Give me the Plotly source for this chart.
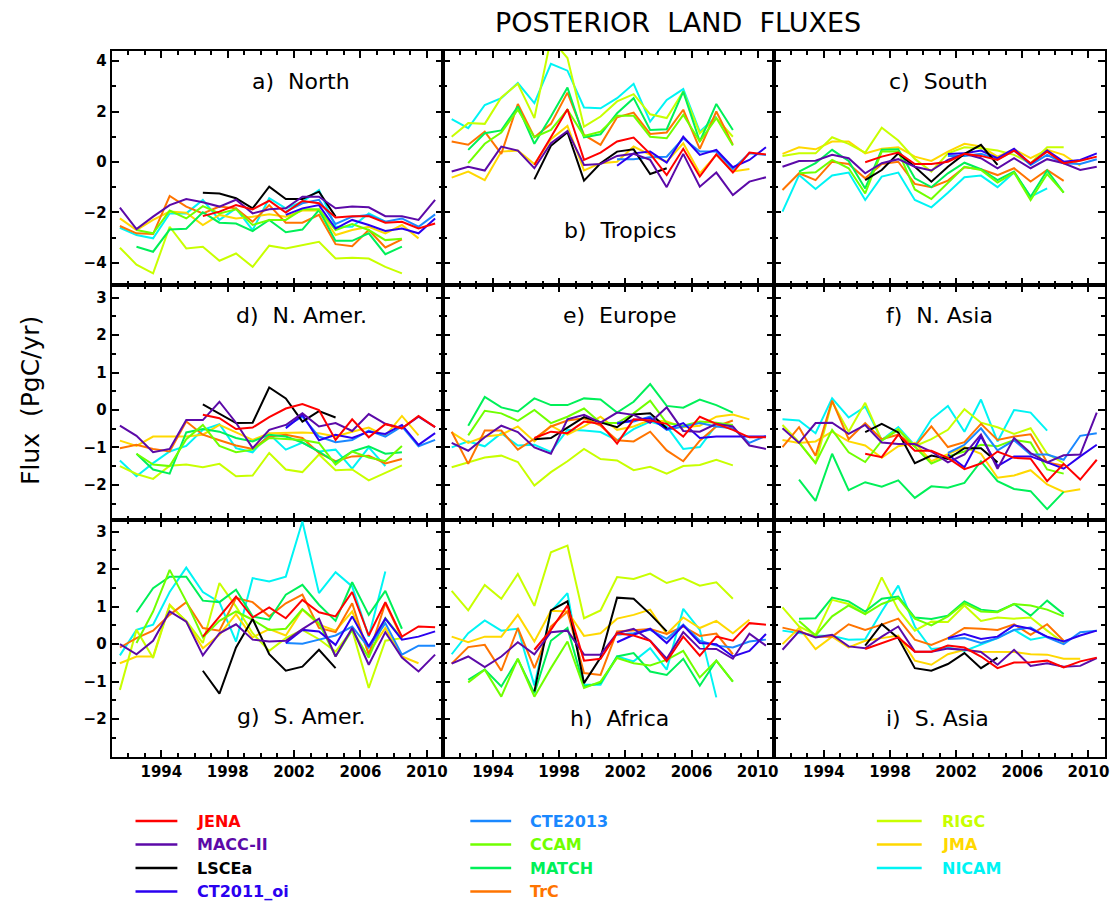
import plotly.graph_objects as go

W, H = 1118, 903

MODELS = ["JENA", "MACC-II", "LSCEa", "CT2011_oi", "CTE2013", "CCAM", "MATCH", "TrC", "RIGC", "JMA", "NICAM"]
COLORS = {"JENA": "#ff0000", "MACC-II": "#5c0aa8", "LSCEa": "#000000", "CT2011_oi": "#2a00f0",
          "CTE2013": "#1a88ff", "CCAM": "#70ff00", "MATCH": "#00f058", "TrC": "#ff7400",
          "RIGC": "#c8ff00", "JMA": "#ffd800", "NICAM": "#00f4f4"}
START_YEAR = {"JENA": 1996, "MACC-II": 1991, "LSCEa": 1996, "CT2011_oi": 2001, "CTE2013": 2001,
              "CCAM": 1992, "MATCH": 1992, "TrC": 1991, "RIGC": 1991, "JMA": 1991, "NICAM": 1991}
X_TICKS = [1994, 1998, 2002, 2006, 2010]
PANEL_TITLES = ["a)  North", "b)  Tropics", "c)  South", "d)  N. Amer.", "e)  Europe",
                "f)  N. Asia", "g)  S. Amer.", "h)  Africa", "i)  S. Asia"]

NORTH = {
    "JENA": [-2.15, -1.97, -1.71, -1.88, -1.54, -2.01, -1.55, -1.64, -2.20, -2.15, -2.15, -2.41, -2.37, -2.64, -2.44],
    "MACC-II": [-1.81, -2.66, -2.17, -1.71, -1.47, -1.60, -1.77, -1.50, -2.04, -1.88, -1.84, -1.38, -1.38, -1.84, -1.77, -1.80, -2.15, -2.15, -2.30, -1.50],
    "LSCEa": [-1.22, -1.25, -1.44, -1.84, -0.98, -1.47, -1.47, -1.18, -2.17],
    "CT2011_oi": [-2.10, -1.84, -1.71, -2.64, -2.30, -2.50, -2.74, -2.64, -2.83, -2.24],
    "CTE2013": [-1.97, -1.64, -1.50, -2.46, -2.17, -2.10, -2.37, -2.24, -2.57, -2.08],
    "CCAM": [-2.70, -2.83, -1.93, -2.24, -1.75, -2.04, -1.88, -2.50, -2.30, -2.30, -1.88, -1.88, -2.70, -2.46, -2.70, -3.10, -3.05],
    "MATCH": [-3.36, -3.56, -2.68, -2.65, -2.00, -2.41, -2.44, -2.74, -2.30, -2.79, -2.68, -1.91, -3.13, -3.13, -2.83, -3.66, -3.36],
    "TrC": [-2.54, -2.83, -2.86, -1.35, -1.77, -2.04, -1.77, -1.84, -2.37, -1.71, -2.41, -2.41, -2.10, -3.26, -3.34, -2.70, -3.39, -3.07],
    "RIGC": [-3.40, -4.07, -4.42, -2.57, -3.43, -3.36, -3.92, -3.63, -4.16, -3.32, -3.43, -3.30, -3.17, -3.83, -3.80, -3.83, -4.16, -4.42],
    "JMA": [-2.24, -2.70, -2.30, -1.97, -2.01, -2.50, -2.10, -2.24, -2.17, -2.07, -2.17, -1.93, -1.93, -2.90, -2.70, -2.57, -2.83, -2.50, -3.03],
    "NICAM": [-2.61, -2.90, -3.03, -2.04, -2.04, -1.51, -2.30, -1.84, -2.70, -1.44, -1.84, -1.58, -1.11, -2.57, -2.57, -2.04, -2.37],
}
TROPICS = {
    "JENA": [-0.12, 1.00, 2.09, 0.08, 0.37, 0.81, 0.97, 0.32, -0.52, 0.52, -0.58, 0.30, -0.42, 0.37, 0.30],
    "MACC-II": [-0.38, -0.19, -0.34, 0.61, 0.45, -0.25, 0.74, 1.23, -0.12, -0.08, 0.24, 0.32, 0.08, -1.00, 0.32, -0.98, -0.42, -1.31, -0.78, -0.61],
    "LSCEa": [-0.69, 0.64, 1.18, -0.74, -0.05, 0.41, 0.50, -0.48, -0.25],
    "CT2011_oi": [-0.15, 0.34, 0.41, -0.03, 1.00, 0.28, 0.48, -0.21, 0.08, 0.58],
    "CTE2013": [0.11, 0.11, 0.19, 0.21, 0.94, 0.41, 0.41, -0.28, 0.34, 0.28],
    "CCAM": [-0.05, 0.72, 1.17, 2.07, 0.98, 1.27, 2.07, 1.03, 1.20, 1.83, 1.83, 1.00, 0.94, 1.87, 0.81, 1.74, 0.65],
    "MATCH": [0.48, 1.14, 1.25, 2.20, 0.72, 1.80, 2.95, 0.98, 1.10, 1.93, 2.53, 1.27, 1.30, 2.79, 0.81, 2.30, 1.27],
    "TrC": [0.81, 0.68, 1.20, 0.32, 2.30, 0.98, 1.51, 2.75, 1.07, 0.68, 1.77, 1.96, 1.11, 1.17, 2.07, 0.52, 2.00, 0.68],
    "RIGC": [1.00, 1.54, 1.51, 2.56, 3.10, 1.74, 4.90, 4.12, 1.40, 1.80, 2.40, 2.69, 1.89, 1.74, 2.79, 1.14, 1.74, 1.00],
    "JMA": [-0.62, -0.38, -0.72, 0.41, 0.45, -0.08, 0.90, 1.43, -0.34, -0.05, 0.01, 0.61, 0.28, 0.01, 0.74, -0.45, 0.28, -0.38, -0.28],
    "NICAM": [1.70, 1.34, 2.26, 2.53, 3.13, 2.33, 3.89, 3.62, 2.16, 2.13, 2.53, 3.10, 1.60, 2.46, 2.89, 1.20, 1.80],
}
SOUTH = {
    "JENA": [-0.01, 0.21, 0.37, -0.08, -0.08, 0.01, 0.32, 0.24, 0.08, 0.45, -0.05, 0.41, -0.05, 0.05, 0.21],
    "MACC-II": [-0.19, 0.04, 0.05, 0.28, 0.15, -0.45, -0.05, 0.11, -0.19, -0.34, 0.08, 0.32, 0.15, -0.25, 0.15, -0.25, 0.11, -0.05, -0.32, -0.19],
    "LSCEa": [-0.72, -0.32, 0.34, -0.19, -0.78, -0.19, 0.32, 0.68, -0.12],
    "CT2011_oi": [0.32, 0.34, 0.45, 0.15, 0.52, -0.08, 0.45, 0.01, 0.08, 0.34],
    "CTE2013": [0.24, 0.24, 0.32, 0.11, 0.45, -0.12, 0.28, -0.05, -0.08, 0.11],
    "CCAM": [-0.45, -0.41, 0.08, -0.25, -1.25, 0.41, 0.41, -1.09, -1.47, -0.85, -0.19, -0.32, -0.82, -0.42, -1.51, -0.48, -1.22],
    "MATCH": [-0.38, -0.05, 0.48, 0.04, -1.05, 0.48, 0.50, -0.65, -1.00, -0.45, -0.03, -0.29, -0.72, -0.38, -1.38, -0.34, -1.22],
    "TrC": [-1.11, -0.45, -0.72, 0.01, -0.08, -0.65, -0.08, 0.01, -0.87, -1.00, -0.74, -0.21, -0.29, -0.52, -0.25, -0.78, -0.32, -0.75],
    "RIGC": [0.24, 0.34, 0.34, 0.98, 0.72, 0.37, 1.36, 0.85, 0.12, -0.38, 0.34, 0.58, 0.54, 0.45, 0.28, -0.05, 0.58, 0.58],
    "JMA": [0.32, 0.58, 0.50, 0.81, 0.81, 0.34, 0.52, 0.58, 0.21, 0.04, 0.41, 0.72, 0.61, 0.21, 0.50, 0.15, 0.48, 0.28, -0.15],
    "NICAM": [-1.97, -0.52, -1.07, -0.54, -0.42, -1.51, -0.58, -0.42, -1.51, -1.80, -1.22, -0.61, -0.54, -1.00, -0.42, -1.38, -1.05],
}
N_AMER = {
    "JENA": [-0.13, -0.22, -0.51, -0.47, -0.19, 0.04, 0.16, 0.00, -0.80, -0.25, -0.73, -0.38, -0.49, -0.16, -0.46],
    "MACC-II": [-0.42, -0.69, -1.13, -1.04, -0.27, -0.27, 0.22, -0.34, -1.02, -0.53, -0.40, -0.09, -0.44, -0.35, -0.56, -0.11, -0.37, -0.49, -0.18, -0.46],
    "LSCEa": [0.15, -0.09, -0.35, -0.34, 0.60, 0.31, -0.31, -0.03, -0.20],
    "CT2011_oi": [-0.49, -0.13, -0.81, -0.66, -0.75, -0.58, -0.64, -0.40, -0.93, -0.62],
    "CTE2013": [-0.44, -0.18, -0.71, -0.86, -0.80, -0.55, -0.71, -0.44, -0.97, -0.80],
    "CCAM": [-1.17, -1.46, -1.50, -0.78, -0.40, -0.96, -1.13, -1.06, -0.75, -0.78, -0.80, -0.88, -1.46, -1.11, -1.27, -1.37, -0.96],
    "MATCH": [-1.17, -1.59, -1.70, -0.60, -0.51, -0.58, -0.75, -0.84, -0.66, -0.71, -0.87, -1.11, -1.40, -1.11, -0.97, -1.17, -1.13],
    "TrC": [-1.02, -0.93, -1.04, -1.11, -0.31, -0.66, -0.81, -0.95, -1.04, -0.71, -0.66, -0.75, -1.15, -1.37, -1.24, -1.22, -1.43, -1.31],
    "RIGC": [-1.50, -1.71, -1.84, -1.49, -1.46, -1.53, -1.44, -1.77, -1.75, -1.15, -1.59, -1.66, -1.19, -1.61, -1.59, -1.88, -1.68, -1.48],
    "JMA": [-0.82, -0.96, -0.71, -0.71, -0.71, -0.66, -0.40, -0.60, -0.80, -0.62, -0.60, -0.60, -0.62, -0.71, -0.58, -0.47, -0.69, -0.16, -0.68],
    "NICAM": [-1.35, -1.77, -1.42, -1.11, -0.96, -0.53, -0.38, -1.02, -1.13, -0.64, -1.06, -0.87, -1.11, -1.06, -1.57, -1.00, -1.50],
}
EUROPE = {
    "JENA": [-0.75, -0.58, -0.62, -0.31, -0.37, -0.90, -0.25, -0.28, -0.37, -0.71, -0.18, -0.37, -0.53, -0.73, -0.73],
    "MACC-II": [-0.88, -1.09, -0.73, -0.42, -0.59, -1.00, -1.17, -0.25, -0.13, -0.34, -0.07, -0.13, -0.34, 0.07, -0.56, -0.58, -0.37, -0.44, -0.95, -1.04],
    "LSCEa": [-0.78, -0.75, -0.47, -0.19, -0.33, -0.46, -0.12, -0.09, -0.49],
    "CT2011_oi": [-0.37, -0.27, -0.22, -0.51, -0.35, -0.75, -0.71, -0.71, -0.73, -0.71],
    "CTE2013": [-0.34, -0.31, -0.18, -0.53, -0.44, -0.35, -0.44, -0.49, -0.88, -0.69],
    "CCAM": [-0.68, -0.02, -0.09, -0.29, 0.00, -0.35, -0.18, 0.04, -0.34, -0.35, -0.09, 0.25, -0.35, -0.42, -0.31, -0.34, -0.40],
    "MATCH": [-0.42, 0.35, 0.07, -0.04, 0.31, 0.13, 0.13, 0.31, 0.28, -0.07, 0.22, 0.69, 0.11, 0.06, 0.28, 0.13, -0.07],
    "TrC": [-0.58, -1.44, -0.55, -0.55, -1.06, -0.77, -0.44, -0.28, -0.22, -0.42, -0.81, -0.84, -0.58, -1.08, -1.37, -0.82, -0.44, -0.28],
    "RIGC": [-1.53, -1.40, -1.27, -1.22, -1.39, -2.02, -1.66, -1.37, -1.04, -1.31, -1.35, -1.61, -1.52, -1.70, -1.50, -1.47, -1.33, -1.48],
    "JMA": [-0.60, -0.88, -0.71, -0.66, -0.44, -0.84, -0.42, -0.66, -0.44, -0.18, -0.53, -0.44, -0.27, -0.31, -0.46, -0.42, -0.18, -0.12, -0.25],
    "NICAM": [-1.00, -0.84, -0.97, -0.62, -0.95, -0.93, -1.12, -0.53, -0.55, -0.59, -0.81, -0.51, -0.31, -0.44, -1.04, -0.99, -0.40],
}
N_ASIA = {
    "JENA": [-1.17, -1.26, -0.66, -1.09, -1.09, -1.28, -1.58, -1.43, -1.11, -1.28, -1.30, -1.90, -1.44, -1.86, -1.33],
    "MACC-II": [-0.49, -0.88, -0.35, -0.34, -0.64, -0.40, -0.87, -0.91, -0.91, -1.11, -1.40, -1.19, -0.66, -1.57, -0.75, -1.15, -1.40, -1.21, -1.19, -0.07],
    "LSCEa": [-0.59, -0.37, -0.60, -1.42, -1.22, -1.31, -1.02, -1.02, -1.40],
    "CT2011_oi": [-1.19, -1.53, -0.71, -1.50, -1.24, -1.24, -1.40, -1.57, -1.24, -0.93],
    "CTE2013": [-1.15, -0.93, -0.49, -1.08, -0.81, -1.19, -1.19, -1.33, -0.69, -0.62],
    "CCAM": [-0.87, -1.42, -0.53, -1.13, -1.39, -0.82, -0.53, -0.97, -1.43, -1.24, -1.11, -0.93, -0.97, -0.80, -0.87, -1.59, -1.70],
    "MATCH": [-1.86, -2.43, -1.17, -2.14, -1.93, -2.05, -1.88, -2.35, -2.04, -2.08, -1.95, -1.37, -1.90, -2.11, -2.17, -2.65, -2.19],
    "TrC": [-0.99, -0.46, -1.22, 0.25, -0.78, -0.35, -0.78, -0.66, -0.97, -0.44, -0.99, -0.86, -0.37, -0.80, -0.71, -0.65, -1.40, -1.49],
    "RIGC": [-0.40, -0.86, -1.42, 0.22, -0.58, 0.19, -0.81, -0.51, -0.97, -0.78, -0.53, 0.02, -0.34, -0.46, -0.64, -0.49, -1.17, -1.42],
    "JMA": [-0.80, -0.88, -0.84, -0.58, -0.84, -0.95, -1.28, -0.97, -0.88, -1.37, -1.18, -0.99, -1.17, -1.81, -1.75, -1.61, -1.99, -2.19, -2.12],
    "NICAM": [-0.25, -0.28, -0.62, 0.31, -0.20, 0.09, -0.80, -0.46, -0.95, -0.25, 0.11, -0.58, 0.28, -0.84, 0.00, -0.07, -0.55],
}
S_AMER = {
    "JENA": [0.20, 0.74, 1.27, 0.71, 0.98, 0.69, 1.18, 0.85, 0.74, 1.39, 0.23, 1.12, 0.20, 0.47, 0.45],
    "MACC-II": [0.00, -0.27, 0.09, 0.87, 0.60, -0.30, 0.29, 0.53, 0.12, 0.07, 0.09, 0.40, 0.68, -0.33, 0.43, -0.55, 0.32, -0.36, -0.73, -0.28],
    "LSCEa": [-0.71, -1.32, -0.09, 0.67, -0.27, -0.71, -0.60, -0.15, -0.64],
    "CT2011_oi": [0.03, 0.38, 0.34, -0.02, 0.74, -0.06, 0.68, 0.12, 0.20, 0.34],
    "CTE2013": [0.03, 0.01, 0.12, 0.23, 0.47, -0.09, 0.56, -0.28, -0.04, -0.04],
    "CCAM": [0.03, 0.87, 1.98, 1.14, 0.18, 0.62, 0.87, 0.65, 0.38, 0.41, 0.93, 0.56, -0.33, 0.38, -0.36, 0.69, 0.14],
    "MATCH": [0.85, 1.49, 1.80, 1.80, 1.16, 1.12, 1.45, 0.74, 0.65, 1.32, 1.58, 1.05, 0.62, 1.65, 0.78, 1.42, 0.41],
    "TrC": [-0.09, 0.16, 0.36, 0.78, 1.12, 0.43, 0.36, 1.23, 1.12, 0.74, 1.09, 1.32, 0.43, 0.32, 1.09, -0.28, 1.09, 0.16],
    "RIGC": [-1.22, 0.38, -0.37, 1.03, 0.62, 0.03, 1.63, 1.00, 0.29, -0.18, 0.16, 0.38, 0.13, -0.20, 0.38, -1.17, 0.09, 0.16],
    "JMA": [-0.51, -0.33, -0.33, 1.05, 0.60, -0.11, 0.25, 0.80, 0.18, 0.40, 0.23, 0.92, 0.52, 0.36, 0.87, -0.24, 0.43, -0.33, -0.51],
    "NICAM": [-0.30, 0.38, 0.52, 1.39, 2.04, 1.39, 1.12, 0.07, 1.76, 1.67, 1.80, 3.27, 1.36, 1.92, 1.54, 0.20, 1.94],
}
AFRICA = {
    "JENA": [-0.15, 0.38, 1.03, -0.44, -0.39, 0.29, 0.23, 0.09, -0.46, 0.20, -0.31, 0.20, 0.09, 0.56, 0.52],
    "MACC-II": [-0.52, -0.33, -0.61, -0.33, 0.05, -0.27, 0.32, 0.36, -0.28, -0.28, 0.29, 0.41, 0.09, -0.39, 0.32, -0.12, -0.13, -0.39, 0.28, -0.04],
    "LSCEa": [-1.26, 0.90, 1.14, -1.04, -0.36, 1.24, 1.21, 0.80, 0.34],
    "CT2011_oi": [0.05, 0.25, 0.41, 0.03, 0.50, 0.03, 0.00, -0.33, -0.18, 0.27],
    "CTE2013": [0.25, 0.29, 0.38, 0.14, 0.52, 0.09, -0.04, -0.09, 0.07, 0.12],
    "CCAM": [-1.02, -0.68, -1.40, -0.39, -1.40, -0.64, 0.07, -1.17, -1.00, -0.37, -0.51, -0.57, -0.42, -0.18, -0.89, -0.44, -1.00],
    "MATCH": [-0.95, -0.68, -1.13, -0.40, -1.31, 0.09, 0.43, -1.13, -1.04, -0.33, -0.24, -0.73, -0.82, -0.39, -1.11, -0.44, -1.00],
    "TrC": [-0.52, -0.08, -0.02, -0.71, 0.43, -0.64, 0.47, 0.87, -0.77, -0.82, 0.34, 0.38, 0.40, 0.27, 0.47, 0.22, 0.28, -0.27],
    "RIGC": [1.42, 0.90, 1.58, 1.21, 1.87, 1.02, 2.45, 2.63, 0.69, 0.90, 1.79, 1.74, 1.88, 1.63, 1.76, 1.56, 1.65, 1.21],
    "JMA": [0.20, 0.05, 0.20, 0.20, 0.78, 0.07, 0.89, 0.87, 0.22, 0.29, 0.68, 0.78, 0.92, 0.27, 0.71, 0.43, 0.62, 0.29, 0.65],
    "NICAM": [-0.27, 0.29, 0.63, 0.36, 0.41, -1.10, 0.87, 1.36, -1.08, -1.08, -0.33, -0.46, -0.11, -0.68, 0.94, 0.38, -1.42],
}
S_ASIA = {
    "JENA": [-0.13, 0.03, 0.18, -0.20, -0.20, -0.04, -0.09, -0.33, -0.64, -0.49, -0.48, -0.44, -0.62, -0.46, -0.36],
    "MACC-II": [-0.15, 0.34, 0.18, 0.25, -0.06, -0.11, 0.20, 0.47, -0.20, -0.20, -0.12, -0.15, -0.21, -0.55, -0.15, -0.58, -0.51, -0.60, -0.58, -0.37],
    "LSCEa": [-0.04, 0.53, 0.16, -0.64, -0.71, -0.53, -0.24, -0.64, -0.36],
    "CT2011_oi": [0.16, 0.27, 0.14, 0.20, 0.50, 0.41, 0.20, 0.07, 0.23, 0.36],
    "CTE2013": [0.14, 0.16, 0.03, 0.16, 0.38, 0.44, 0.18, 0.00, 0.32, 0.36],
    "CCAM": [0.62, 0.23, 0.74, 1.03, 0.80, 1.07, 1.23, 0.68, 0.50, 0.74, 1.09, 0.87, 0.85, 1.07, 1.03, 0.92, 0.74],
    "MATCH": [0.68, 0.69, 1.24, 1.14, 0.87, 1.21, 1.27, 0.71, 0.67, 0.76, 1.14, 0.92, 0.87, 1.07, 0.76, 1.16, 0.80],
    "TrC": [0.44, 0.34, 0.20, 0.20, 0.53, 0.38, 0.52, 0.68, 0.12, -0.02, 0.16, 0.43, 0.41, 0.38, 0.53, 0.25, 0.53, 0.09],
    "RIGC": [0.98, 0.47, 0.25, 1.18, 1.07, 0.80, 1.78, 0.92, 0.36, 0.60, 0.59, 1.03, 0.62, 0.71, 0.68, 0.71, 0.36, 0.03],
    "JMA": [0.00, 0.43, -0.13, 0.20, -0.09, 0.09, 0.16, 0.23, -0.44, -0.55, -0.27, -0.15, -0.20, -0.20, -0.21, -0.27, -0.28, -0.39, -0.39],
    "NICAM": [0.36, 0.29, 0.23, 0.22, 0.12, 0.13, 0.87, 1.56, 0.47, -0.13, -0.09, -0.18, 0.00, 0.16, 0.38, 0.12, 0.20],
}

REGIONS = [NORTH, TROPICS, SOUTH, N_AMER, EUROPE, N_ASIA, S_AMER, AFRICA, S_ASIA]

# ---------------- layout geometry (pixels) ----------------
COL_PX = [(112, 445), (445, 777), (777, 1109)]
ROW_PX = [(51, 285), (285, 520), (520, 757)]
ROW_YRANGE = [(-4.88, 4.40), (-2.94, 3.34), (-3.01, 3.31)]
ROW_YTICKS = [[-4, -2, 0, 2, 4], [-2, -1, 0, 1, 2, 3], [-2, -1, 0, 1, 2, 3]]
ROW_YMINOR = [1, 0.5, 0.5]
LABEL_POS = [(302, 81), (622, 230), (942, 81), (303, 316), (622, 316), (943, 316),
             (303, 716), (622, 718), (941, 718)]


def px(x):
    return x / W


def py(y):
    return 1 - y / H


fig = go.Figure()
TICKFONT = dict(family="DejaVu Sans", size=15, color="black", weight="bold")

draw_order = list(reversed(MODELS))
annotations = []
for k, region in enumerate(REGIONS):
    r, c = divmod(k, 3)
    idx = k + 1
    xa = "x" if idx == 1 else f"x{idx}"
    ya = "y" if idx == 1 else f"y{idx}"
    for m in draw_order:
        vals = region[m]
        xs = [START_YEAR[m] + i + 0.5 for i in range(len(vals))]
        fig.add_trace(go.Scatter(x=xs, y=vals, mode="lines", xaxis=xa, yaxis=ya,
                                 line=dict(color=COLORS[m], width=2), showlegend=False,
                                 name=m, hoverinfo="skip"))
    x0, x1 = COL_PX[c]
    y0, y1 = ROW_PX[r]
    xkey = "xaxis" if idx == 1 else f"xaxis{idx}"
    ykey = "yaxis" if idx == 1 else f"yaxis{idx}"
    fig.update_layout(**{
        xkey: dict(domain=[px(x0), px(x1)], range=[1991, 2011], anchor=ya,
                   showline=True, linecolor="black", linewidth=2, mirror="ticks",
                   ticks="inside", ticklen=7, tickwidth=2, tickcolor="black",
                   tickvals=X_TICKS, ticktext=[str(t) for t in X_TICKS],
                   showticklabels=(r == 2), tickfont=TICKFONT,
                   minor=dict(dtick=1, tick0=1991, ticks="inside", ticklen=4, tickwidth=1.5, tickcolor="black"),
                   showgrid=False, zeroline=False, fixedrange=True),
        ykey: dict(domain=[py(y1), py(y0)], range=list(ROW_YRANGE[r]), anchor=xa,
                   showline=True, linecolor="black", linewidth=2, mirror="ticks",
                   ticks="inside", ticklen=7, tickwidth=2, tickcolor="black",
                   tickvals=ROW_YTICKS[r], ticktext=[str(t).replace("-", "\u2212") for t in ROW_YTICKS[r]],
                   showticklabels=(c == 0), tickfont=TICKFONT,
                   minor=dict(dtick=ROW_YMINOR[r], tick0=0, ticks="inside", ticklen=4, tickwidth=1.5, tickcolor="black"),
                   showgrid=False, zeroline=False, fixedrange=True),
    })
    lx, ly = LABEL_POS[k]
    annotations.append(dict(x=px(lx), y=py(ly), xref="paper", yref="paper", text=PANEL_TITLES[k],
                            showarrow=False, xanchor="center", yanchor="middle",
                            font=dict(family="DejaVu Sans", size=22, color="black")))

# title and axis label
annotations.append(dict(x=px(680), y=py(22), xref="paper", yref="paper", text="POSTERIOR  LAND  FLUXES",
                        showarrow=False, xanchor="center", yanchor="middle",
                        font=dict(family="DejaVu Sans", size=27, color="black")))
annotations.append(dict(x=px(30), y=py(400), xref="paper", yref="paper", text="Flux  (PgC/yr)",
                        showarrow=False, xanchor="center", yanchor="middle", textangle=-90,
                        font=dict(family="DejaVu Sans", size=25, color="black")))

# custom legend (three columns)
LEGEND_COLS = [(136, 178, 196, ["JENA", "MACC-II", "LSCEa", "CT2011_oi"]),
               (472, 513, 530, ["CTE2013", "CCAM", "MATCH", "TrC"]),
               (880, 925, 943, ["RIGC", "JMA", "NICAM"])]
LEGEND_ROWS = [821, 844.5, 868, 891.5]
shapes = []
for lx0, lx1, tx, names in LEGEND_COLS:
    for j, m in enumerate(names):
        yy = LEGEND_ROWS[j]
        shapes.append(dict(type="line", xref="paper", yref="paper", x0=px(lx0), x1=px(lx1),
                           y0=py(yy), y1=py(yy), line=dict(color=COLORS[m], width=2.5)))
        annotations.append(dict(x=px(tx), y=py(yy), xref="paper", yref="paper", text=m,
                                showarrow=False, xanchor="left", yanchor="middle",
                                font=dict(family="DejaVu Sans", size=16, color=COLORS[m], weight="bold")))

fig.update_layout(width=W, height=H, margin=dict(l=0, r=0, t=0, b=0),
                  paper_bgcolor="white", plot_bgcolor="white",
                  annotations=annotations, shapes=shapes, showlegend=False)

fig.write_html("out.html")
